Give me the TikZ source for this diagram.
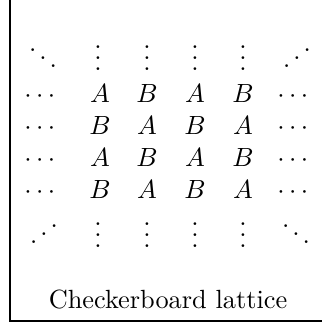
\documentclass[tikz,border=0pt]{standalone}
\usepackage{amsmath}
\newcommand{\myiddots}{\reflectbox{$\ddots$}}
\begin{document}
\begin{tikzpicture}[x=0.38pt,y=-0.38pt,
  entry/.style={anchor=base,inner sep=0pt,outer sep=0pt},
  frameline/.style={line width=0.4pt,black}]
\useasboundingbox (0,0) rectangle (322,325);
\coordinate (ftop) at (10,0);
\coordinate (fcorner) at (10,321);
\coordinate (fright) at (322,321);
\draw[frameline] (ftop) -- (fcorner) -- (fright);
% top dots row
\node[entry] (t0) at (43,70) {$\ddots$};
\node[entry] (t1) at (98,70) {$\vdots$};
\node[entry] (t2) at (147,70) {$\vdots$};
\node[entry] (t3) at (195,70) {$\vdots$};
\node[entry] (t4) at (243,70) {$\vdots$};
\node[entry] (t5) at (297,70) {\myiddots};
% rows
\foreach \r/\y/\a/\b in {1/102/A/B, 2/134/B/A, 3/166/A/B, 4/198.5/B/A}{
  \node[entry] (r\r c0) at (42,\y) {$\cdots$};
  \node[entry] (r\r c1) at (100,\y) {$\a$};
  \node[entry] (r\r c2) at (147,\y) {$\b$};
  \node[entry] (r\r c3) at (195,\y) {$\a$};
  \node[entry] (r\r c4) at (243,\y) {$\b$};
  \node[entry] (r\r c5) at (295,\y) {$\cdots$};
}
% bottom dots row
\node[entry] (b0) at (44,246) {\myiddots};
\node[entry] (b1) at (98,247) {$\vdots$};
\node[entry] (b2) at (147,247) {$\vdots$};
\node[entry] (b3) at (195,247) {$\vdots$};
\node[entry] (b4) at (243,247) {$\vdots$};
\node[entry] (b5) at (296,246) {$\ddots$};
% caption
\node[entry] (cap) at (168,308) {Checkerboard lattice};
\end{tikzpicture}
\end{document}
